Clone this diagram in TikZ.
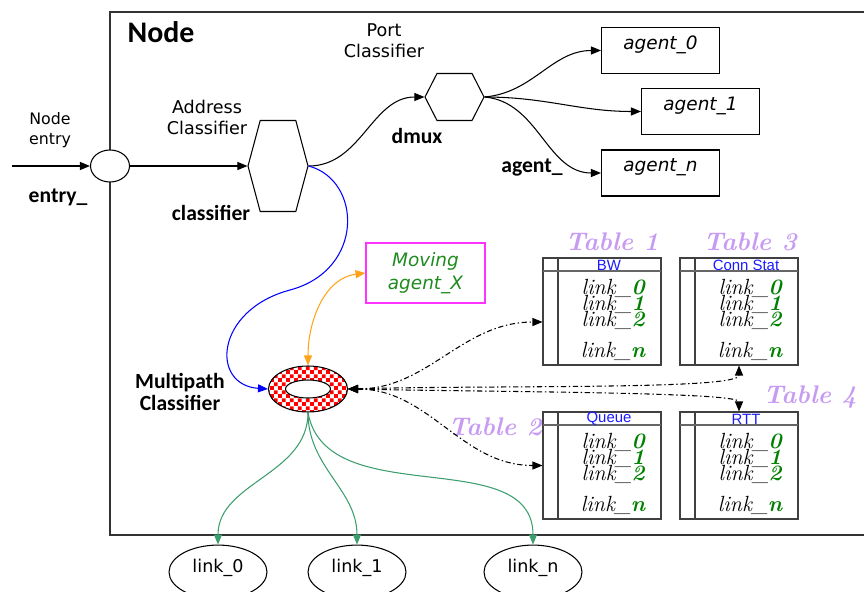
\documentclass[tikz,border=0pt]{standalone}
\usepackage{fontspec}
\setmainfont{DejaVu Sans}
\newfontfamily\lblfont{Carlito}
\newfontfamily\headfont{Liberation Sans}
\newfontfamily\handfont{Latin Modern Roman}
\usetikzlibrary{positioning,arrows.meta,shapes.geometric,shapes.symbols,patterns}
\definecolor{LinkGreen}{HTML}{3C9E6E}
\definecolor{TextGreen}{HTML}{1F8A1F}
\definecolor{DigitGreen}{HTML}{008000}
\definecolor{MoveMagenta}{HTML}{FF33FF}
\definecolor{MoveOrange}{HTML}{FFA31A}
\definecolor{TabLilac}{HTML}{C89BF2}
\definecolor{HeadBlue}{HTML}{1A1AFF}
\pgfdeclarepatternformonly{finechecker}{\pgfqpoint{0pt}{0pt}}{\pgfqpoint{4.4pt}{4.4pt}}{\pgfqpoint{4.4pt}{4.4pt}}%
  {\pgfpathrectangle{\pgfpointorigin}{\pgfqpoint{2.2pt}{2.2pt}}%
   \pgfpathrectangle{\pgfqpoint{2.2pt}{2.2pt}}{\pgfqpoint{2.2pt}{2.2pt}}\pgfusepath{fill}}
\begin{document}
\begin{tikzpicture}[x=0.02cm,y=-0.02cm,line width=0.6pt,
      txt/.style={align=center,font=\fontsize{10}{12}\selectfont},
      lbl/.style={align=center,font=\lblfont\bfseries\fontsize{12.3}{12.5}\selectfont},
      agentbox/.style={draw,minimum width=2.36cm,minimum height=0.92cm,
                       text height=7.5pt,text depth=9pt,
                       font=\itshape\fontsize{10.5}{12}\selectfont},
      hexa/.style={draw,fill=white,signal,signal to=west and east,inner sep=0pt},
      tabbox/.style={draw=black!75,minimum width=2.36cm,minimum height=2.14cm,inner sep=0pt},
      headtxt/.style={font=\headfont\fontsize{8.5}{9}\selectfont,text=HeadBlue,inner sep=0pt},
      linktxt/.style={font=\handfont\itshape\fontsize{12.5}{13}\selectfont,inner sep=0pt},
      tablbl/.style={font=\handfont\bfseries\itshape\fontsize{14.5}{15}\selectfont,text=TabLilac},
      linkell/.style={draw,ellipse,minimum width=1.96cm,minimum height=0.8cm,
                      text height=7.5pt,text depth=7.5pt,
                      font=\fontsize{10}{12}\selectfont},
      ar/.style={-{Triangle[length=2mm,width=1.6mm]}},
      dd/.style={{Triangle[length=2mm,width=1.6mm]}-{Triangle[length=2mm,width=1.6mm]},
                 dash pattern=on 3pt off 1.5pt on 0.8pt off 1.5pt}]
    \useasboundingbox (0,0) rectangle (864,591);
    % frame of the node
    \draw[black!80] (880,12) -- (110,12) -- (110,535) -- (880,535);
    \node[lbl,font=\lblfont\bfseries\fontsize{17}{18}\selectfont] (title) at (161,32) {Node};
    % entry and classifiers
    \coordinate (src) at (12,166);
    \node[draw,ellipse,fill=white,minimum width=0.78cm,minimum height=0.64cm,inner sep=0pt] (entry) at (110,166) {};
    \node[txt,font=\fontsize{9}{11.3}\selectfont] (entrytxt) at (50,130) {Node\\entry};
    \node[lbl] (entrylbl) at (58,197) {entry\_};
    \node[hexa,minimum width=1.2cm,minimum height=1.82cm,signal pointer angle=150] (addr) at (278,166) {};
    \node[txt] (addrtxt) at (207,117) {Address\\Classifier};
    \node[lbl] (addrlbl) at (211,213) {classifier};
    \node[hexa,minimum width=1.18cm,minimum height=0.94cm,signal pointer angle=126] (dmux) at (454.5,97) {};
    \node[txt] (porttxt) at (384,41) {Port\\Classifier};
    \node[lbl] (dmuxlbl) at (417,136) {dmux};
    % agents
    \node[agentbox] (a0) at (660.5,50.5) {agent\_0};
    \node[agentbox] (a1) at (700.5,111.5) {agent\_1};
    \node[agentbox] (an) at (660.5,173) {agent\_n};
    \node[lbl] (agentlbl) at (532,168) {agent\_};
    \node[draw=MoveMagenta,minimum width=2.38cm,minimum height=1.2cm,align=center,
          text=TextGreen,font=\itshape\fontsize{10.5}{13}\selectfont] (mov) at (425.5,273) {Moving\\agent\_X};
    % multipath classifier
    \node[draw,ellipse,minimum width=1.58cm,minimum height=0.92cm,inner sep=0pt,
          pattern=finechecker,pattern color=red] (ring) at (308,389) {};
    \draw[fill=white] (ring.center) ellipse [x radius=0.45cm,y radius=0.18cm];
    \node[lbl] (ringlbl) at (180,392) {Multipath\\Classifier};
    % tables
    \foreach \tn/\tx/\ty/\thead in {1/543/258/BW,3/680/258/Conn Stat,2/543/412/Queue,4/680/412/RTT}{
      \node[tabbox] (tab\tn) at (\tx+59,\ty+53.5) {};
      \draw[black!75] (\tx+15,\ty) -- (\tx+15,\ty+107);
      \draw[black!60,line width=1.2pt] (\tx,\ty+13) -- (\tx+118,\ty+13);
      \node[headtxt] at (\tx+66,\ty+7) {\thead};
      \foreach \k/\dy in {0/30,1/46,2/62,n/93}
        \node[linktxt] at (\tx+70,\ty+\dy) {link\_{\bfseries\color{DigitGreen}\k}};
    }
    \node[tablbl] (lbl1) at (612,242) {Table 1};
    \node[tablbl] (lbl3) at (750,242) {Table 3};
    \node[tablbl] (lbl2) at (495,427) {Table 2};
    \node[tablbl] (lbl4) at (810,397) {Table 4};
    % links
    \node[linkell] (l0) at (218,572) {link\_0};
    \node[linkell] (l1) at (357,572) {link\_1};
    \node[linkell] (ln) at (533,572) {link\_n};
    % connectors
    \draw[ar] (src) -- (entry);
    \draw[ar] (entry) -- (addr);
    \draw[ar] (addr.east) to[out=0,in=180] (dmux.west);
    \draw[ar] (dmux.east) to[out=5,in=180] (a0.west);
    \draw[ar] (dmux.east) to[out=0,in=180] (a1.west);
    \draw[ar] (dmux.east) to[out=-5,in=180] (an.west);
    \draw[ar,blue] (addr.east) .. controls (362,180) and (365,270) .. (290,290)
        .. controls (215,310) and (210,385) .. (ring.west);
    \draw[{Triangle[length=2mm,width=1.6mm]}-{Triangle[length=2mm,width=1.6mm]},MoveOrange]
        (mov.west) .. controls (325,278) and (308,320) .. (ring.north);
    \draw[dd] (ring.east) to[out=0,in=180] (tab1.190);
    \draw[dd] (ring.east) .. controls (500,385) and (739,390) .. (tab3.south);
    \draw[dd] (ring.east) .. controls (500,392) and (739,392) .. (tab4.north);
    \draw[dd] (ring.east) to[out=0,in=180] (tab2.west);
    \draw[ar,LinkGreen] (ring.south) to[out=-90,in=90] (l0.north);
    \draw[ar,LinkGreen] (ring.south) to[out=-90,in=90] (l1.north);
    \draw[ar,LinkGreen] (ring.south) to[out=-80,in=90] (ln.north);
\end{tikzpicture}
\end{document}
